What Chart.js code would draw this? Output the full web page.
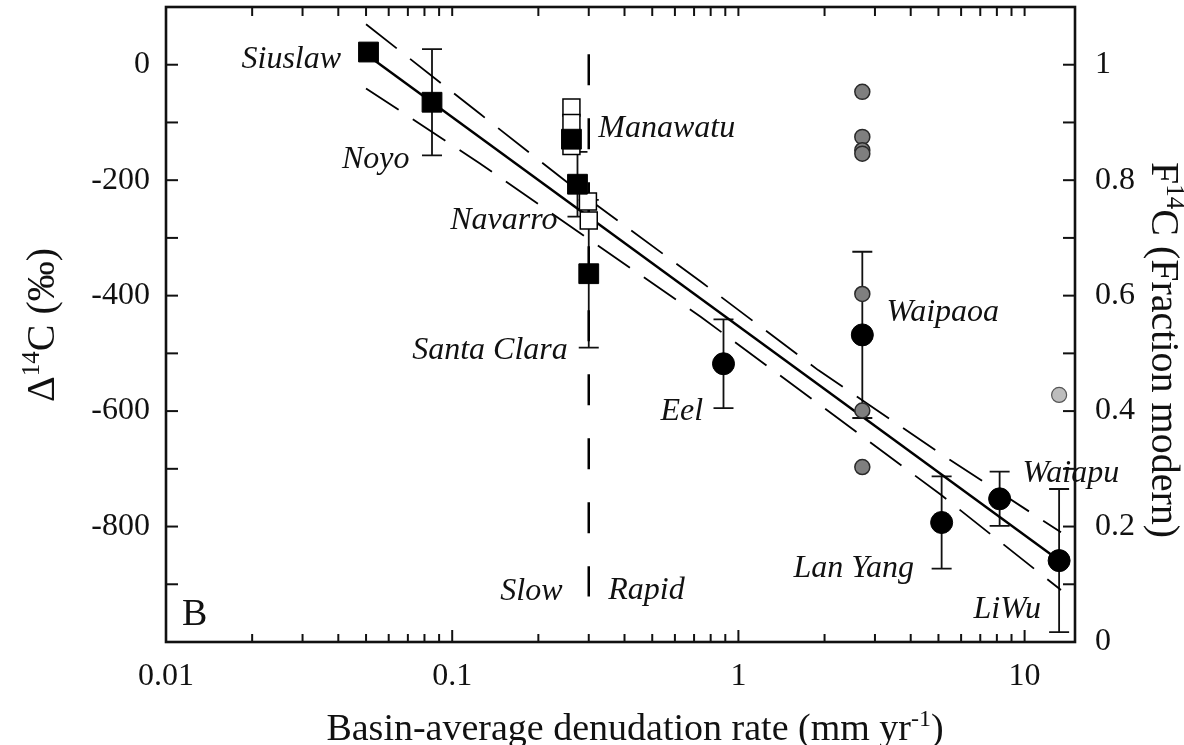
<!DOCTYPE html>
<html>
<head>
<meta charset="utf-8">
<script src="https://cdn.jsdelivr.net/npm/chart.js@4.4.1/dist/chart.umd.min.js"></script>
<style>
  html, body { margin: 0; padding: 0; background: #ffffff; }
  #wrap { width: 1184px; height: 745px; }
</style>
</head>
<body>
<div id="wrap"><canvas id="c14Chart" width="1184" height="745"></canvas></div>
<script>
// Filled squares: slowly eroding basins
const squareRivers = ['Siuslaw', 'Noyo', 'Manawatu', 'Navarro', 'Santa Clara'];
const squareRate = [0.051, 0.085, 0.261, 0.274, 0.30];
const squareD14C = [22, -65, -129, -207, -362];
const squareErr = [0, 92, 0, 56, 128];

// Open squares: individual samples around 0.26-0.3 mm/yr
const openRate = [0.261, 0.261, 0.261, 0.298, 0.30];
const openD14C = [-74, -101, -141, -237, -270];

// Filled circles: rapidly eroding basins
const circleRivers = ['Eel', 'Waipaoa', 'Lan Yang', 'Waiapu', 'LiWu'];
const circleRate = [0.887, 2.71, 5.13, 8.18, 13.2];
const circleD14C = [-518, -468, -793, -752, -859];
const circleErr = [77, 144, 80, 47, 124];

// Grey circles: individual Waipaoa samples, light grey: single LiWu sample
const waipaoaRate = [2.71, 2.71, 2.71, 2.71, 2.71, 2.71, 2.71];
const waipaoaD14C = [-47, -125, -148, -154, -397, -599, -697];
const liwuRate = [13.2];
const liwuD14C = [-572];

// Regression line and its confidence band
const fitRate = [0.051, 13.4];
const fitD14C = [15, -861];
const bandRate = [0.05, 0.125, 0.3, 0.74, 1.9, 5.1, 13.4];
const bandUpper = [70, -85, -233, -376, -529, -674, -810];
const bandLower = [-41, -171, -302, -437, -587, -745, -910];

// Slow / rapid divide
const divideRate = [0.3, 0.3];
const divideD14C = [18, -921];

// Axis ticks and labels
const rateTicks = [0.01, 0.02, 0.03, 0.04, 0.05, 0.06, 0.07, 0.08, 0.09,
                   0.1, 0.2, 0.3, 0.4, 0.5, 0.6, 0.7, 0.8, 0.9,
                   1, 2, 3, 4, 5, 6, 7, 8, 9, 10];
const rateLabelValues = [0.01, 0.1, 1, 10];
const rateLabels = ['0.01', '0.1', '1', '10'];
const d14cTicks = [-1000, -900, -800, -700, -600, -500, -400, -300, -200, -100, 0, 100];
const d14cLabelValues = [0, -200, -400, -600, -800];
const d14cLabels = ['0', '-200', '-400', '-600', '-800'];
const fmTicks = [0, 0.1, 0.2, 0.3, 0.4, 0.5, 0.6, 0.7, 0.8, 0.9, 1, 1.1];
const fmLabelValues = [0, 0.2, 0.4, 0.6, 0.8, 1];
const fmLabels = ['0', '0.2', '0.4', '0.6', '0.8', '1'];

// River names, anchored in data coordinates
const riverLabels = [
  { text: 'Siuslaw', rate: 0.0409, d14c: -6, align: 'right' },
  { text: 'Noyo', rate: 0.0412, d14c: -179, align: 'left' },
  { text: 'Manawatu', rate: 0.324, d14c: -125, align: 'left' },
  { text: 'Navarro', rate: 0.0984, d14c: -285, align: 'left' },
  { text: 'Santa Clara', rate: 0.0725, d14c: -510, align: 'left' },
  { text: 'Eel', rate: 0.534, d14c: -615, align: 'left' },
  { text: 'Waipaoa', rate: 3.29, d14c: -444, align: 'left' },
  { text: 'Waiapu', rate: 9.84, d14c: -722, align: 'left' },
  { text: 'Lan Yang', rate: 1.557, d14c: -888, align: 'left' },
  { text: 'LiWu', rate: 6.63, d14c: -959, align: 'left' },
  { text: 'Slow', rate: 0.1472, d14c: -928, align: 'left' },
  { text: 'Rapid', rate: 0.351, d14c: -926, align: 'left' }
];

const SERIF = "'Liberation Serif', 'Times New Roman', serif";
const INK = '#111111';

const pts = (xs, ys) => xs.map((x, i) => ({ x: x, y: ys[i] }));

function pickLabel(values, labels, v) {
  const i = values.indexOf(v);
  return i >= 0 ? labels[i] : null;
}

// vertical error bars with caps, under the markers
const errorBars = {
  id: 'errorBars',
  beforeDatasetsDraw(chart) {
    const { ctx, scales } = chart;
    ctx.save();
    ctx.strokeStyle = INK;
    ctx.lineWidth = 1.8;
    chart.data.datasets.forEach(ds => {
      if (!ds.errors) return;
      ds.data.forEach((p, j) => {
        const e = ds.errors[j];
        if (!e) return;
        const x = scales.x.getPixelForValue(p.x);
        const y1 = scales.y.getPixelForValue(p.y + e);
        const y2 = scales.y.getPixelForValue(p.y - e);
        ctx.beginPath();
        ctx.moveTo(x, y1); ctx.lineTo(x, y2);
        ctx.moveTo(x - 10, y1); ctx.lineTo(x + 10, y1);
        ctx.moveTo(x - 10, y2); ctx.lineTo(x + 10, y2);
        ctx.stroke();
      });
    });
    ctx.restore();
  }
};

// river names and panel letter
const annotations = {
  id: 'annotations',
  afterDatasetsDraw(chart) {
    const { ctx, scales } = chart;
    ctx.save();
    ctx.fillStyle = INK;
    ctx.textBaseline = 'alphabetic';
    ctx.font = 'italic 32px ' + SERIF;
    riverLabels.forEach(l => {
      ctx.textAlign = l.align;
      ctx.fillText(l.text, scales.x.getPixelForValue(l.rate), scales.y.getPixelForValue(l.d14c));
    });
    ctx.font = '38px ' + SERIF;
    ctx.textAlign = 'left';
    ctx.fillText('B', scales.x.getPixelForValue(0.01137), scales.y.getPixelForValue(-971));
    ctx.restore();
  }
};

// text with superscript parts, centred on (0, 0)
function drawRich(ctx, parts, size) {
  const supSize = Math.round(size * 0.62);
  const widths = parts.map(p => {
    ctx.font = (p.sup ? supSize : size) + 'px ' + SERIF;
    return ctx.measureText(p.t).width;
  });
  let x = -widths.reduce((a, b) => a + b, 0) / 2;
  parts.forEach((p, i) => {
    ctx.font = (p.sup ? supSize : size) + 'px ' + SERIF;
    ctx.fillText(p.t, x, p.sup ? -size * 0.38 : 0);
    x += widths[i];
  });
}

// inward tick marks, frame and axis titles
const frame = {
  id: 'frame',
  afterDraw(chart) {
    const { ctx, chartArea: a, scales } = chart;
    ctx.save();
    ctx.strokeStyle = INK;
    ctx.lineWidth = 2;
    const seg = (x1, y1, x2, y2) => { ctx.beginPath(); ctx.moveTo(x1, y1); ctx.lineTo(x2, y2); ctx.stroke(); };
    rateTicks.forEach(v => {
      const x = scales.x.getPixelForValue(v);
      const len = rateLabelValues.includes(v) ? 12 : 8;
      seg(x, a.bottom, x, a.bottom - len);
      seg(x, a.top, x, a.top + 9);
    });
    d14cTicks.forEach(v => {
      const y = scales.y.getPixelForValue(v);
      seg(a.left, y, a.left + 12, y);
    });
    fmTicks.forEach(v => {
      const y = scales.y2.getPixelForValue(v);
      seg(a.right, y, a.right - 12, y);
    });
    ctx.lineWidth = 2.6;
    ctx.strokeRect(a.left, a.top, a.right - a.left, a.bottom - a.top);

    ctx.fillStyle = INK;
    ctx.textAlign = 'left';
    ctx.textBaseline = 'alphabetic';

    ctx.save();
    ctx.translate(635, 740);
    drawRich(ctx, [{ t: 'Basin-average denudation rate (mm yr' }, { t: '-1', sup: true }, { t: ')' }], 38);
    ctx.restore();

    ctx.save();
    ctx.translate(54, 325);
    ctx.rotate(-Math.PI / 2);
    drawRich(ctx, [{ t: '\u0394' }, { t: '14', sup: true }, { t: 'C (\u2030)' }], 40);
    ctx.restore();

    ctx.save();
    ctx.translate(1152, 350);
    ctx.rotate(Math.PI / 2);
    drawRich(ctx, [{ t: 'F' }, { t: '14', sup: true }, { t: 'C (Fraction modern)' }], 40);
    ctx.restore();

    ctx.restore();
  }
};

Chart.defaults.font.family = SERIF;
Chart.defaults.color = INK;

const tickFont = { family: SERIF, size: 32 };

// keep tick-label overhang from shrinking the plot area
const noOverhang = axis => {
  axis.paddingTop = 0;
  axis.paddingBottom = 0;
  axis.paddingLeft = 0;
  axis.paddingRight = 0;
};

new Chart(document.getElementById('c14Chart').getContext('2d'), {
  type: 'scatter',
  data: {
    datasets: [
      {
        label: 'Filled circles',
        data: pts(circleRate, circleD14C),
        errors: circleErr,
        pointStyle: 'circle',
        pointRadius: 11,
        backgroundColor: '#000000',
        borderColor: '#000000',
        borderWidth: 1,
        order: 1
      },
      {
        label: 'Filled squares',
        data: pts(squareRate, squareD14C),
        errors: squareErr,
        pointStyle: 'rect',
        pointRadius: 14,
        backgroundColor: '#000000',
        borderColor: '#000000',
        borderWidth: 1,
        order: 1
      },
      {
        label: 'Open squares',
        data: pts(openRate, openD14C),
        pointStyle: 'rect',
        pointRadius: 12,
        backgroundColor: '#ffffff',
        borderColor: '#000000',
        borderWidth: 1.5,
        order: 2
      },
      {
        label: 'Waipaoa samples',
        data: pts(waipaoaRate, waipaoaD14C),
        pointStyle: 'circle',
        pointRadius: 7.5,
        backgroundColor: '#7f7f7f',
        borderColor: '#2a2a2a',
        borderWidth: 1.5,
        order: 3
      },
      {
        label: 'LiWu sample',
        data: pts(liwuRate, liwuD14C),
        pointStyle: 'circle',
        pointRadius: 7.5,
        backgroundColor: '#bdbdbd',
        borderColor: '#555555',
        borderWidth: 1.2,
        order: 3
      },
      {
        label: 'Fit',
        data: pts(fitRate, fitD14C),
        showLine: true,
        pointRadius: 0,
        borderColor: '#000000',
        borderWidth: 2.5,
        order: 4
      },
      {
        label: 'Upper band',
        data: pts(bandRate, bandUpper),
        showLine: true,
        pointRadius: 0,
        borderColor: '#000000',
        borderWidth: 1.8,
        borderDash: [39, 17],
        order: 5
      },
      {
        label: 'Lower band',
        data: pts(bandRate, bandLower),
        showLine: true,
        pointRadius: 0,
        borderColor: '#000000',
        borderWidth: 1.8,
        borderDash: [39, 17],
        order: 5
      },
      {
        label: 'Divide',
        data: pts(divideRate, divideD14C),
        showLine: true,
        pointRadius: 0,
        borderColor: '#000000',
        borderWidth: 2.5,
        borderDash: [31, 33],
        order: 6
      }
    ]
  },
  options: {
    responsive: false,
    animation: false,
    devicePixelRatio: 1,
    layout: { autoPadding: false, padding: { top: 7, left: 0, right: 0, bottom: 0 } },
    plugins: {
      legend: { display: false },
      tooltip: { enabled: false }
    },
    scales: {
      x: {
        type: 'logarithmic',
        position: 'bottom',
        min: 0.01,
        max: 15,
        grid: { display: false, drawTicks: false },
        border: { display: false },
        afterBuildTicks: axis => { axis.ticks = rateTicks.map(v => ({ value: v })); },
        afterFit: axis => { axis.height = 103; noOverhang(axis); },
        ticks: {
          font: tickFont,
          color: INK,
          padding: 15,
          autoSkip: false,
          maxRotation: 0,
          callback: v => pickLabel(rateLabelValues, rateLabels, v)
        }
      },
      y: {
        type: 'linear',
        position: 'left',
        min: -1000,
        max: 100,
        grid: { display: false, drawTicks: false },
        border: { display: false },
        afterBuildTicks: axis => { axis.ticks = d14cTicks.map(v => ({ value: v })); },
        afterFit: axis => { axis.width = 166; noOverhang(axis); },
        ticks: {
          font: tickFont,
          color: INK,
          padding: 16,
          autoSkip: false,
          callback: v => pickLabel(d14cLabelValues, d14cLabels, v)
        }
      },
      y2: {
        type: 'linear',
        position: 'right',
        min: 0,
        max: 1.1,
        grid: { display: false, drawTicks: false },
        border: { display: false },
        afterBuildTicks: axis => { axis.ticks = fmTicks.map(v => ({ value: v })); },
        afterFit: axis => { axis.width = 109; noOverhang(axis); },
        ticks: {
          font: tickFont,
          color: INK,
          padding: 20,
          autoSkip: false,
          callback: v => pickLabel(fmLabelValues, fmLabels, v)
        }
      }
    }
  },
  plugins: [errorBars, annotations, frame]
});
</script>
</body>
</html>
